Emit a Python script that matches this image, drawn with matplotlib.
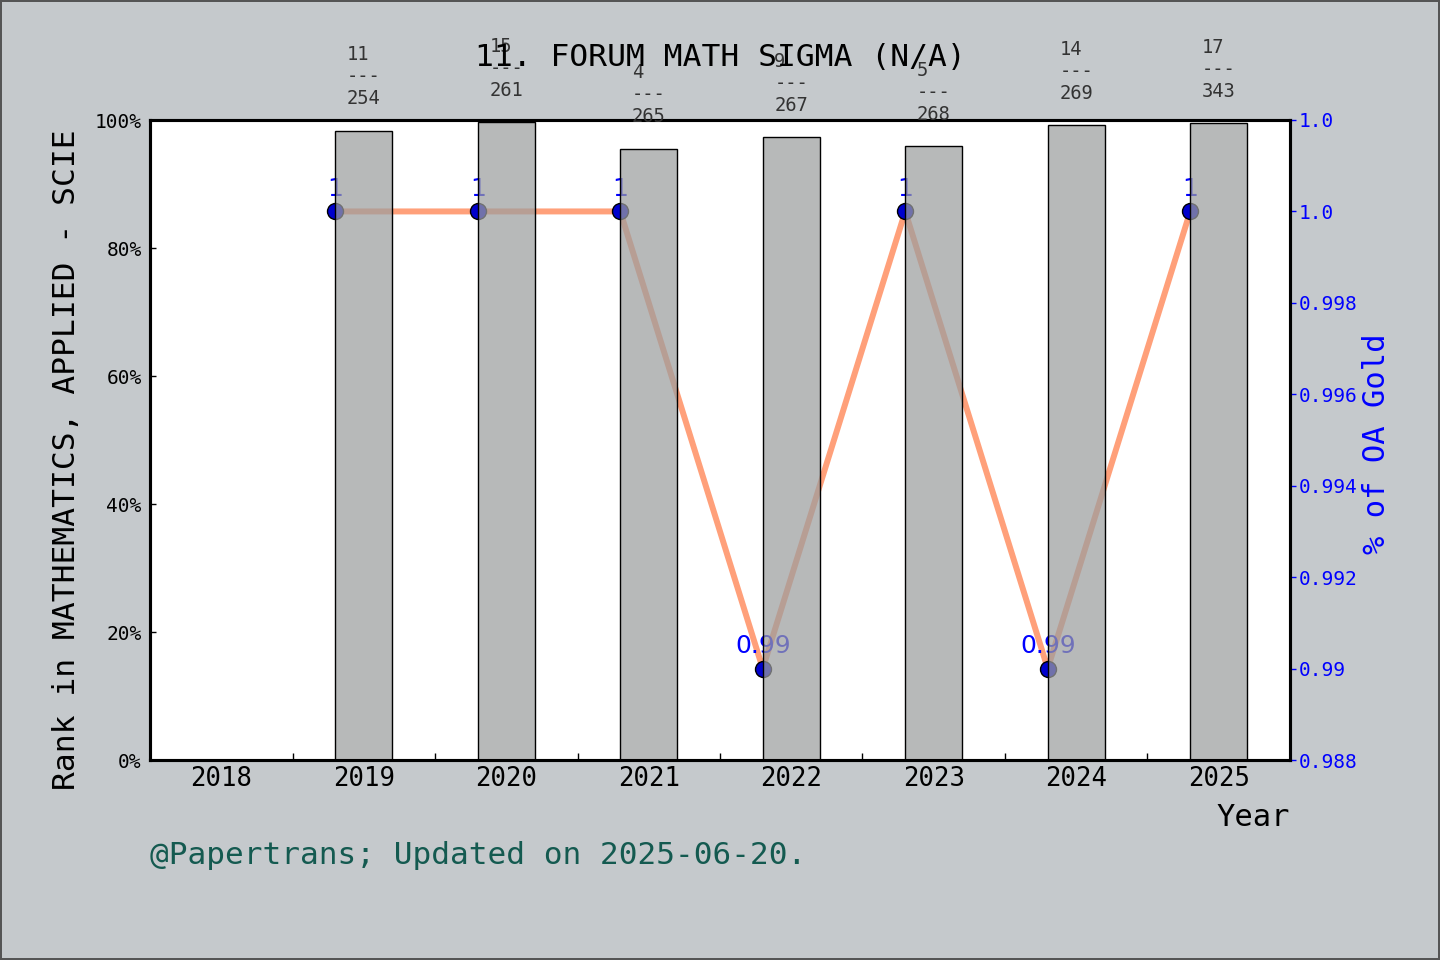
import matplotlib
matplotlib.use("Agg")
import matplotlib.pyplot as plt
import numpy as np

# data
tick_years = [2018, 2019, 2020, 2021, 2022, 2023, 2024, 2025]
years = [2019, 2020, 2021, 2022, 2023, 2024, 2025]
rank_pct = [0.983, 0.997, 0.955, 0.973, 0.959, 0.992, 0.995]
ranks = [11, 15, 4, 9, 5, 14, 17]
totals = [254, 261, 265, 267, 268, 269, 343]
oa_gold = [1, 1, 1, 0.99, 1, 0.99, 1]
oa_labels = ['1', '1', '1', '0.99', '1', '0.99', '1']
right_ticks = [0.988, 0.990, 0.992, 0.994, 0.996, 0.998, 1.000, 1.002]
right_ticklabels = ['0.988', '0.99', '0.992', '0.994', '0.996', '0.998', '1.0', '1.0']

MONO = 'DejaVu Sans Mono'
SANS = 'DejaVu Sans'
BG = '#c5c9cc'

fig = plt.figure(figsize=(14.4, 9.6), dpi=100, facecolor=BG,
                 edgecolor='#555555', linewidth=1.5)
ax = fig.add_axes([0.1042, 0.2083, 0.7916, 0.6667])
ax2 = ax.twinx()

# bars above the line: put ax in front and show the white patch from ax2
ax.set_zorder(ax2.get_zorder() + 1)
ax.patch.set_visible(False)
ax2.patch.set_visible(True)
ax2.patch.set_facecolor('white')

x = np.array(years)
ax.bar(x, rank_pct, width=0.4, color=(156 / 255, 158 / 255, 159 / 255, 0.72),
       edgecolor='black', linewidth=1)
for xi, h, r, t in zip(x, rank_pct, ranks, totals):
    ax.text(xi, h + 0.035, f"{r}\n---\n{t}", ha='center', va='bottom',
            multialignment='left', fontsize=13.5, color='#333333',
            family=MONO, clip_on=False)

# OA gold line, drawn at the left edge of each bar
xl = x - 0.2
ax2.plot(xl, oa_gold, color='#ffa07a', linewidth=4.3, marker='o',
         markersize=11.5, markerfacecolor='#0000cd', markeredgecolor='black',
         markeredgewidth=1)
for xi, v, s in zip(xl, oa_gold, oa_labels):
    ax2.annotate(s, (xi, v), xytext=(0, 16), textcoords='offset points',
                 ha='center', va='center', fontsize=18, color='#0000ff',
                 family=SANS)

ax.set_xlim(2017.5, 2025.5)
ax.set_ylim(0, 1)
ax2.set_ylim(0.988, 1.002)

ax.set_xticks(tick_years)
ax.set_xticklabels([str(y) for y in tick_years], fontsize=18.5, family=MONO)
ax.set_xticks([y + 0.5 for y in tick_years[:-1]], minor=True)
ax.tick_params(axis='x', which='major', length=0, pad=4)
ax.tick_params(axis='x', which='minor', direction='in', length=5, width=1)

ax.set_yticks([0, 0.2, 0.4, 0.6, 0.8, 1.0])
ax.set_yticklabels([f"{int(v * 100)}%" for v in [0, 0.2, 0.4, 0.6, 0.8, 1.0]],
                   fontsize=14, family=MONO)
ax.tick_params(axis='y', direction='in', length=4, width=1, pad=6)

ax2.set_yticks(right_ticks)
ax2.set_yticklabels(right_ticklabels, fontsize=14, family=MONO, color='blue')
ax2.tick_params(axis='y', direction='out', length=4, width=1, colors='blue', pad=2)

for a in (ax, ax2):
    for sp in a.spines.values():
        sp.set_linewidth(2.2)
        sp.set_color('black')

ax.set_ylabel('Rank in MATHEMATICS, APPLIED - SCIE', fontsize=22.5, family=MONO)
ax.yaxis.set_label_coords(-0.061, 0.47)
ax2.set_ylabel('% of OA Gold', fontsize=22, family=MONO, color='blue')
ax2.yaxis.set_label_coords(1.063, 0.494)
ax.set_xlabel('Year', fontsize=22, family=MONO, ha='right')
ax.xaxis.set_label_coords(1.0, -0.067)

ax.text(0.5, 1.098, '11. FORUM MATH SIGMA (N/A)', transform=ax.transAxes,
        ha='center', va='center', fontsize=22.5, family=MONO)
fig.text(150 / 1440, 1 - 855 / 960, '@Papertrans; Updated on 2025-06-20.',
         ha='left', va='center', fontsize=22.4, family=MONO, color='#145a50')

fig.savefig('out.png', dpi=100, facecolor=BG, edgecolor='#555555')
